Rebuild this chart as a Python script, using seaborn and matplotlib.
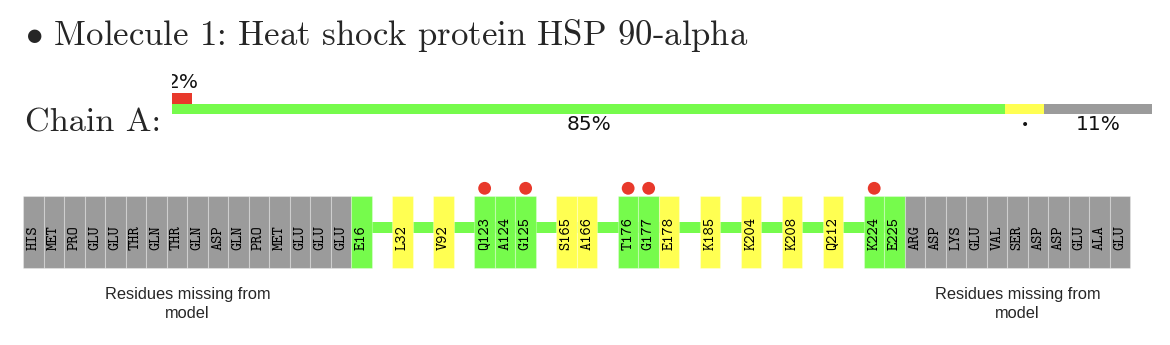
import re
import numpy as np
import pandas as pd
import matplotlib
matplotlib.use("Agg")
import matplotlib.pyplot as plt
import seaborn as sns

# ---------------- data ----------------
title = "Molecule 1: Heat shock protein HSP 90-alpha"
chain_label = "Chain A:"

summary_cats = ["green", "yellow", "gray"]
summary_pct = [85, 4, 11]
summary_labels = ["85%", "\u2022", "11%"]
outlier_pct = 2
outlier_label = "2%"

missing_n = ["HIS", "MET", "PRO", "GLU", "GLU", "THR", "GLN", "THR", "GLN",
             "ASP", "GLN", "PRO", "MET", "GLU", "GLU", "GLU"]
modeled = ["E16", "L32", "V92", "Q123", "A124", "G125", "S165", "A166",
           "T176", "G177", "E178", "K185", "K204", "K208", "Q212", "K224", "E225"]
modeled_quality = ["green", "yellow", "yellow", "green", "green", "green", "yellow", "yellow",
                   "green", "green", "yellow", "yellow", "yellow", "yellow", "yellow", "green", "green"]
dot_residues = ["Q123", "G125", "T176", "G177", "K224"]
missing_c = ["ARG", "ASP", "LYS", "GLU", "VAL", "SER", "ASP", "ASP", "GLU", "ALA", "GLU"]
missing_text = "Residues missing from\nmodel"

# ---------------- style ----------------
sns.set_theme(style="white")
plt.rcParams["font.family"] = ["DejaVu Sans"]
plt.rcParams["mathtext.fontset"] = "cm"

COL = {"green": "#76FB4C", "yellow": "#FFFF52", "gray": "#9B9B9B", "red": "#E8392B"}

W, H = 1170, 345
fig = plt.figure(figsize=(W / 100, H / 100), dpi=100)


def fx(px):
    return px / W


def fy(py):
    return 1 - py / H


# title and chain label
fig.text(fx(25), fy(44.5), r"$\bullet$ " + title, family=["cmr10", "DejaVu Serif"],
         fontsize=25, va="baseline", ha="left")
fig.text(fx(25), fy(132), chain_label, family=["cmr10", "DejaVu Serif"],
         fontsize=24.7, va="baseline", ha="left")

# ---------------- summary bar ----------------
ax_s = fig.add_axes([fx(172), fy(135), fx(980), 70 / H])
ax_s.set_xlim(0, 100)
ax_s.set_ylim(0, 70)
ax_s.axis("off")
lefts = np.concatenate([[0], np.cumsum(summary_pct)[:-1]])
ax_s.barh(y=[26] * len(summary_pct), width=summary_pct, left=lefts, height=10,
          color=[COL[c] for c in summary_cats], linewidth=0)
for l, w, lab in zip(lefts, summary_pct, summary_labels):
    ax_s.text(l + w / 2, 10.5, lab, ha="center", va="center",
              fontsize=14.5 if lab != "\u2022" else 10, color="#111111")
ax_s.barh(y=[36.5], width=[outlier_pct], left=[0], height=11, color=COL["red"], linewidth=0)
ax_s.text(outlier_pct / 2 + 0.1, 52, outlier_label, ha="center", va="center",
          fontsize=14.5, color="#111111", clip_on=True)

# ---------------- residue strip ----------------
cells = []  # (x, label, color)
x = 0
for r in missing_n:
    cells.append((x, r, "gray"))
    x += 1
prev = None
first_mod = last_mod = None
for r, q in zip(modeled, modeled_quality):
    num = int(re.sub(r"\D", "", r))
    if prev is not None and num - prev > 1:
        x += 1
    cells.append((x, r, q))
    if first_mod is None:
        first_mod = x
    last_mod = x
    prev = num
    x += 1
c_start = x
for r in missing_c:
    cells.append((x, r, "gray"))
    x += 1
n_cells = x

df = pd.DataFrame(cells, columns=["x", "label", "quality"])

ax_r = fig.add_axes([fx(23.3), fy(275), fx(1130.5 - 23.3), 100 / H])

# backbone line
ax_r.barh(y=[47.5], width=[last_mod - first_mod], left=[first_mod + 0.5], height=11.6,
          color=COL["green"], linewidth=0, zorder=1)
# cells
ax_r.bar(df["x"] + 0.5, [72] * len(df), bottom=7, width=1,
         color=[COL[q] for q in df["quality"]],
         edgecolor=(1, 1, 1, 0.3), linewidth=0.8, zorder=2)
for _, row in df.iterrows():
    ax_r.text(row["x"] + 0.5, 25, row["label"], rotation=90, ha="center", va="bottom",
              family=["cmtt10", "DejaVu Sans Mono"], fontsize=11.3,
              color="#000000", zorder=3)

# outlier dots
dots = df[df["label"].isin(dot_residues)]
sns.scatterplot(x=dots["x"] + 0.5, y=[86.7] * len(dots), s=85, color=COL["red"],
                edgecolor="none", ax=ax_r, legend=False, zorder=4, clip_on=False)
ax_r.set_xlim(0, n_cells)
ax_r.set_ylim(0, 100)
ax_r.axis("off")

# missing residue captions
for block_start, block_len in [(0, len(missing_n)), (c_start, len(missing_c))]:
    ax_r.text(block_start + block_len / 2, -12, missing_text, ha="center", va="top",
              family=["Liberation Sans", "DejaVu Sans"], fontsize=11.8,
              linespacing=1.3, clip_on=False)

fig.savefig("out.png", dpi=100, facecolor="white")
